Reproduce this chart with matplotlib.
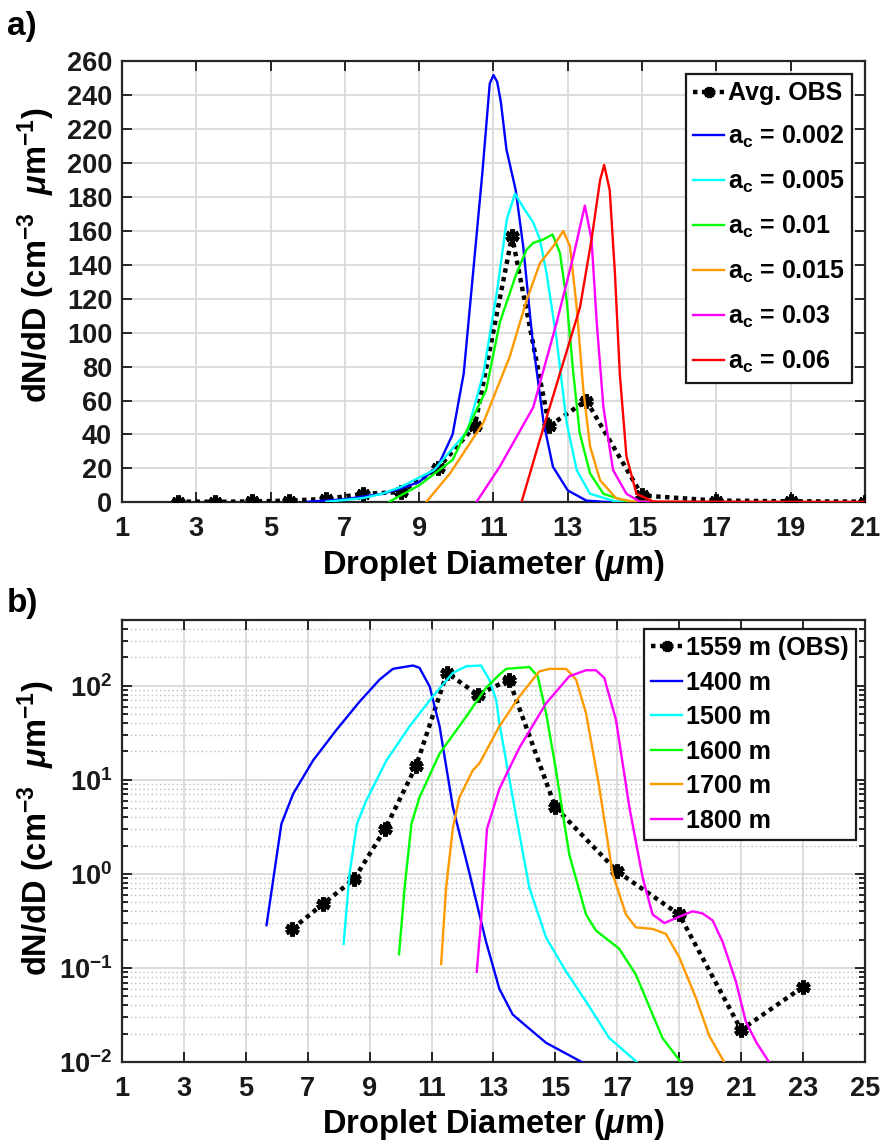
import numpy as np
import matplotlib
matplotlib.use("Agg")
import matplotlib.pyplot as plt
from matplotlib.ticker import LogLocator, NullFormatter

plt.rcParams['font.family'] = ['Liberation Sans', 'DejaVu Sans']
plt.rcParams['font.weight'] = 'bold'
plt.rcParams['mathtext.fontset'] = 'custom'
plt.rcParams['mathtext.rm'] = 'Liberation Sans:bold'
plt.rcParams['mathtext.bf'] = 'Liberation Sans:bold'
plt.rcParams['mathtext.it'] = 'Liberation Sans:italic'
plt.rcParams['mathtext.default'] = 'rm'
plt.rcParams['axes.unicode_minus'] = False

# ---------------- Panel a data ----------------
obs_a_x = [2.5, 3.5, 4.5, 5.5, 6.5, 7.5, 8.5, 9.5, 10.5, 11.5, 12.5, 13.5, 15, 17, 19, 21]
obs_a_y = [0.4, 0.3, 0.5, 1.0, 2.0, 5.0, 6.0, 20, 45, 157, 45, 60, 4, 1, 0.6, 0.4]

a002_x = [6.0, 7.0, 8.0, 8.5, 9.0, 9.5, 9.9, 10.2, 10.45, 10.7, 10.9, 11.0, 11.1, 11.2, 11.35, 11.6, 11.8,
          12.05, 12.35, 12.6, 13.0, 13.5, 14.0, 15.0, 17.0, 21.0]
a002_y = [0.3, 1.8, 5, 8, 12, 21, 40, 76, 135, 194, 247, 252, 248, 236, 208, 184, 151,
          96, 47, 21, 7, 1.0, 0.2, 0, 0, 0]
a005_x = [6.5, 7.5, 8.0, 8.5, 9.4, 10.3, 10.73, 11.1, 11.36, 11.58, 11.8, 12.07, 12.25, 12.43, 12.7,
          12.97, 13.24, 13.6, 14.3, 15.0, 21.0]
a005_y = [0.3, 2.5, 5, 9, 19, 42, 76, 125, 167, 182, 174, 165, 155, 135, 96,
          47, 19, 5, 0.4, 0, 0]
a01_x = [8.2, 9.0, 9.9, 10.8, 11.17, 11.62, 11.89, 12.07, 12.34, 12.59, 12.79, 12.97, 13.15, 13.32,
         13.6, 13.96, 14.6, 15.5, 21.0]
a01_y = [0.4, 10, 25, 66, 106, 135, 149, 153, 155, 158, 147, 119, 76, 41,
         17, 5, 0.4, 0, 0]
a015_x = [9.2, 9.83, 10.73, 11.44, 11.89, 12.25, 12.61, 12.88, 13.06, 13.24, 13.42, 13.6, 13.87,
          14.3, 14.76, 15.5, 21.0]
a015_y = [0.4, 17, 47, 86, 119, 141, 151, 160, 151, 115, 66, 33, 13,
          2.4, 0.4, 0, 0]
a03_x = [10.55, 11.17, 12.07, 12.7, 13.15, 13.46, 13.64, 13.78, 13.96, 14.22, 14.58, 14.94, 15.5, 21.0]
a03_y = [0.4, 21, 56, 106, 145, 175, 155, 106, 56, 19, 5, 0.4, 0, 0]
a06_x = [11.76, 12.25, 12.79, 13.33, 13.64, 13.87, 13.98, 14.13, 14.27, 14.4, 14.58, 14.85, 15.3, 21.0]
a06_y = [0.4, 37, 76, 115, 155, 190, 199, 184, 135, 76, 27, 5, 0.4, 0.2]

labels_a = ['Avg. OBS', r'a$_{\mathregular{c}}$ = 0.002', r'a$_{\mathregular{c}}$ = 0.005',
            r'a$_{\mathregular{c}}$ = 0.01', r'a$_{\mathregular{c}}$ = 0.015',
            r'a$_{\mathregular{c}}$ = 0.03', r'a$_{\mathregular{c}}$ = 0.06']

# ---------------- Panel b data ----------------
obs_b_x = [6.5, 7.5, 8.5, 9.5, 10.5, 11.5, 12.5, 13.5, 15, 17, 19, 21, 23]
obs_b_y = [0.26, 0.48, 0.88, 3.0, 14, 137, 80, 116, 5.1, 1.06, 0.37, 0.022, 0.063]

h1400_x = [5.67, 6.15, 6.53, 7.17, 7.93, 8.68, 9.32, 9.75, 10.4, 10.61, 10.94, 11.26, 11.69, 12.23,
           12.76, 13.19, 13.62, 14.0, 14.7, 15.85]
h1400_y = [0.285, 3.4, 7.1, 16, 34, 68, 116, 151, 164, 155, 98, 37, 5.1, 1.0,
           0.19, 0.06, 0.032, 0.025, 0.016, 0.01]
h1500_x = [8.16, 8.35, 8.59, 8.89, 9.54, 10.29, 11.04, 11.69, 12.12, 12.6, 12.87, 13.09, 13.19,
           13.62, 14.16, 14.7, 15.35, 15.99, 16.74, 17.63]
h1500_y = [0.18, 1.0, 3.4, 6, 16, 37, 77, 137, 161, 164, 115, 70, 40,
           6.5, 0.71, 0.21, 0.091, 0.044, 0.018, 0.01]
h1600_x = [9.95, 10.13, 10.35, 10.61, 11.26, 12.12, 12.76, 13.19, 13.41, 14.16, 14.43, 14.7, 15.02,
           15.45, 15.99, 16.31, 17.06, 17.6, 18.14, 18.46, 19.05]
h1600_y = [0.14, 0.71, 3.4, 6.5, 19, 47, 95, 131, 151, 158, 126, 51, 12.6,
           1.6, 0.37, 0.25, 0.16, 0.085, 0.032, 0.018, 0.01]
h1700_x = [11.31, 11.47, 11.69, 11.9, 12.33, 12.55, 13.19, 13.84, 14.48, 14.81, 15.35, 15.67, 15.99,
           16.42, 16.85, 17.28, 17.6, 18.14, 18.57, 19.0, 19.54, 19.97, 20.45]
h1700_y = [0.11, 0.71, 3.1, 6.5, 12.6, 15, 37, 77, 142, 151, 151, 116, 51,
           8.3, 1.0, 0.37, 0.27, 0.26, 0.23, 0.13, 0.048, 0.019, 0.01]
h1800_x = [12.46, 12.6, 12.79, 13.19, 13.84, 14.7, 15.45, 15.99, 16.31, 16.58, 16.96, 17.39, 17.82,
           18.14, 18.52, 19.0, 19.43, 19.75, 20.08, 20.4, 20.83, 21.15, 21.5, 21.9]
h1800_y = [0.091, 0.32, 3.0, 8, 22, 65, 126, 146, 146, 121, 43, 5.1, 0.91,
           0.37, 0.30, 0.35, 0.40, 0.38, 0.32, 0.19, 0.072, 0.027, 0.016, 0.01]

labels_b = ['1559 m (OBS)', '1400 m', '1500 m', '1600 m', '1700 m', '1800 m']

xticks_a = list(range(1, 22, 2))
yticks_a = list(range(0, 261, 20))
xticks_b = list(range(1, 26, 2))

colors = ['#0000ff', '#00ffff', '#00ff00', '#ff9900', '#ff00ff', '#ff0000']
AX_COL = '#262626'
GRID_COL = '#d9d9d9'
obs_style = dict(color='black', linestyle=(0, (1.0, 1.0)), linewidth=3.2,
                 marker=(6, 2, 0), markersize=10, markeredgewidth=3.5)

XLABEL = r'Droplet Diameter ($\mathit{\mu}$m)'
YLABEL = r'dN/dD (cm$^{-3}$  $\mathit{\mu}$m$^{-1}$)'
TICK_FS = 19.5
LABEL_FS = 23.5
LEG_FS = 18

fig = plt.figure(figsize=(8.8, 11.47), dpi=100)
axa = fig.add_axes([0.1386, 0.5621, 0.8443, 0.3843])
axb = fig.add_axes([0.1386, 0.0741, 0.8443, 0.3854])


def style_axis(ax):
    for s in ax.spines.values():
        s.set_color(AX_COL)
        s.set_linewidth(1.6)
    ax.tick_params(which='both', direction='in', top=True, right=True, colors=AX_COL,
                   labelcolor='#1a1a1a', labelsize=TICK_FS, width=1.4)
    ax.tick_params(which='major', length=7)
    ax.tick_params(axis='x', which='major', pad=10)
    ax.tick_params(axis='y', which='major', pad=7)
    ax.tick_params(which='minor', length=4)
    ax.set_axisbelow(True)


# ---- Panel a ----
axa.plot(obs_a_x, obs_a_y, zorder=3, **obs_style)
series_a = [(a002_x, a002_y), (a005_x, a005_y), (a01_x, a01_y), (a015_x, a015_y),
            (a03_x, a03_y), (a06_x, a06_y)]
for (xs, ys), c in zip(series_a, colors):
    axa.plot(xs, ys, color=c, linewidth=1.7, zorder=4)
axa.set_xlim(1, 21)
axa.set_ylim(0, 260)
axa.set_xticks(xticks_a)
axa.set_yticks(yticks_a)
axa.grid(True, which='major', color=GRID_COL, linewidth=1.3)
style_axis(axa)
axa.set_xlabel(XLABEL, fontsize=LABEL_FS, fontweight='bold', labelpad=4)
axa.set_ylabel(YLABEL, fontsize=LABEL_FS, fontweight='bold', labelpad=0)
axa.yaxis.set_label_coords(-0.088, 0.56)
handles = axa.get_lines()
leg = axa.legend(handles, labels_a, loc='upper right', fontsize=LEG_FS, frameon=True,
                 fancybox=False, edgecolor='#1a1a1a', framealpha=1, handlelength=1.25,
                 handletextpad=0.15, labelspacing=0.75, borderpad=0.3, borderaxespad=0.5,
                 markerscale=0.8)
leg.get_frame().set_linewidth(1.6)

# ---- Panel b ----
axb.plot(obs_b_x, obs_b_y, zorder=3, **obs_style)
series_b = [(h1400_x, h1400_y), (h1500_x, h1500_y), (h1600_x, h1600_y), (h1700_x, h1700_y),
            (h1800_x, h1800_y)]
for (xs, ys), c in zip(series_b, colors[:5]):
    axb.plot(xs, ys, color=c, linewidth=1.7, zorder=4)
axb.set_yscale('log')
axb.set_xlim(1, 25)
axb.set_ylim(0.01, 500)
axb.set_xticks(xticks_b)
axb.yaxis.set_major_locator(LogLocator(base=10, numticks=10))
axb.yaxis.set_minor_locator(LogLocator(base=10, subs=np.arange(2, 10), numticks=12))
axb.yaxis.set_minor_formatter(NullFormatter())
axb.grid(True, which='major', color=GRID_COL, linewidth=1.3)
axb.grid(True, which='minor', axis='y', color='#bdbdbd', linewidth=1.0, linestyle=(0, (1, 2)))
style_axis(axb)
axb.set_xlabel(XLABEL, fontsize=LABEL_FS, fontweight='bold', labelpad=4)
axb.set_ylabel(YLABEL, fontsize=LABEL_FS, fontweight='bold', labelpad=0)
axb.yaxis.set_label_coords(-0.088, 0.53)
handles = axb.get_lines()
leg = axb.legend(handles, labels_b, loc='upper right', fontsize=LEG_FS, frameon=True,
                 fancybox=False, edgecolor='#1a1a1a', framealpha=1, handlelength=1.25,
                 handletextpad=0.15, labelspacing=0.42, borderpad=0.3, borderaxespad=0.35,
                 markerscale=0.8)
leg.get_frame().set_linewidth(1.6)

fig.text(0.008, 0.977, 'a)', fontsize=24, fontweight='bold', va='center', ha='left')
fig.text(0.008, 0.474, 'b)', fontsize=24, fontweight='bold', va='center', ha='left')

fig.savefig('out.png', dpi=100)
